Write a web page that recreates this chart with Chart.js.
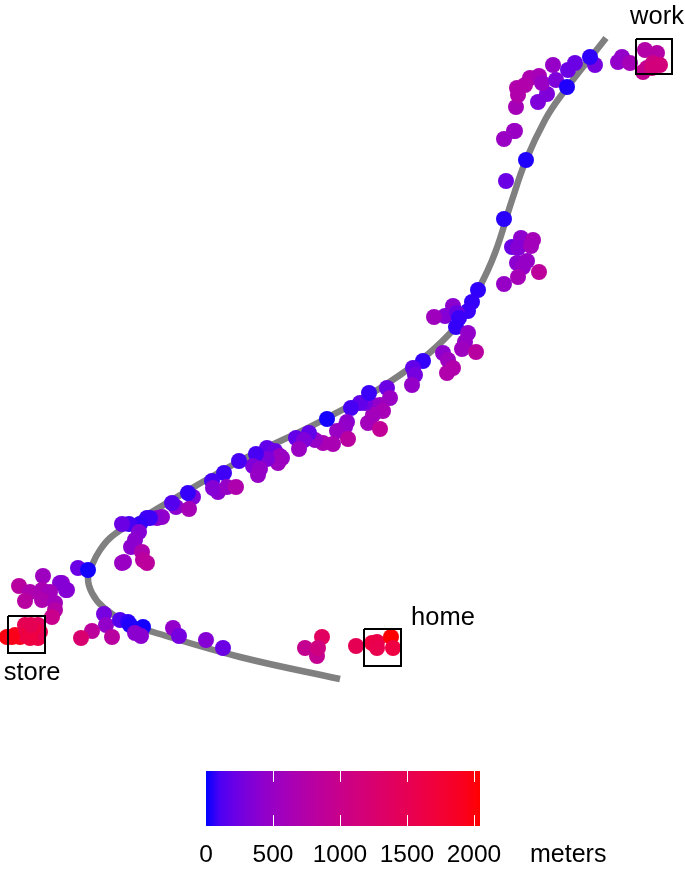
<!DOCTYPE html>
<html>
<head>
<meta charset="utf-8">
<title>commute</title>
<script src="https://cdn.jsdelivr.net/npm/chart.js@4"></script>
<style>
  html, body { margin: 0; padding: 0; background: #fff; }
  #wrap { position: relative; width: 685px; height: 870px; overflow: hidden; }
  canvas { position: absolute; left: 0; }
  #mapChart { top: 0; }
  #barChart { top: 760px; }
</style>
</head>
<body>
<div id="wrap">
  <canvas id="mapChart" width="685" height="760"></canvas>
  <canvas id="barChart" width="685" height="110"></canvas>
</div>
<script>
// road centre line
const roadX = [606, 560, 545, 526, 512, 495, 478, 455, 400, 327, 238, 150, 127, 110, 100, 93, 88, 92, 103, 127, 153, 240, 340];
const roadY = [38, 97, 120, 160, 200, 253, 290, 328, 375, 418, 462, 513, 526, 538, 550, 563, 578, 593, 607, 623, 632, 657, 679];

// recorded positions and distance to the nearest place, in meters
const pointX = [
  622, 618, 630, 643, 645, 657, 647, 653, 652, 660,
  553, 547, 538, 516, 518, 517, 530, 539, 542, 525, 514, 504,
  575, 568, 556, 595, 590, 567,
  515, 506, 526, 504,
  512, 521, 533, 518, 531, 517, 527, 523, 539, 518, 504,
  478, 472, 468, 453, 445, 434, 457, 459, 456,
  468, 465, 462, 476, 443, 448, 453, 447,
  423, 413, 415, 412,
  387, 390, 380, 373, 383, 373, 368, 380, 365, 360, 351, 369,
  347, 345, 337, 348, 333, 323, 315, 309, 296, 304, 299, 282, 327,
  267, 275, 280, 278, 267, 256, 253, 260, 258,
  239, 224, 212, 218, 213, 227, 236,
  193, 188, 176, 172, 189, 162, 157, 150,
  147, 140, 129, 122, 139, 135, 131, 142, 143, 147, 124, 122,
  78, 88,
  67, 62, 43, 19, 30, 60, 66, 42, 50, 25, 42, 55, 55, 52,
  7, 15, 25, 38, 20, 25, 30, 38, 40, 33, 12, 30, 31,
  104, 106, 92, 81, 112, 120, 128, 130, 143, 135, 141,
  173, 179, 206, 223,
  322, 305, 317, 318,
  356, 372, 377, 377, 391, 393
];
const pointY = [
  57, 62, 63, 72, 50, 53, 68, 63, 68, 65,
  65, 94, 102, 107, 95, 88, 78, 76, 83, 85, 131, 139,
  63, 70, 80, 65, 57, 87,
  131, 181, 160, 219,
  247, 238, 240, 248, 246, 263, 261, 267, 272, 277, 284,
  290, 302, 311, 306, 316, 317, 313, 318, 327,
  333, 342, 349, 352, 353, 360, 368, 373,
  361, 368, 375, 385,
  388, 398, 405, 405, 411, 415, 423, 429, 403, 403, 408, 393,
  422, 427, 431, 439, 444, 443, 440, 433, 438, 440, 449, 458, 419,
  448, 451, 456, 463, 459, 454, 466, 469, 475,
  461, 473, 481, 492, 488, 487, 487,
  497, 493, 507, 503, 509, 517, 518, 518,
  518, 524, 524, 524, 532, 540, 547, 552, 560, 563, 562, 563,
  568, 570,
  590, 583, 576, 586, 592, 583, 590, 590, 592, 601, 600, 603, 610, 617,
  637, 635, 625, 625, 637, 635, 632, 638, 632, 628, 637, 638, 625,
  614, 625, 631, 638, 637, 620, 622, 625, 627, 633, 636,
  628, 636, 640, 648,
  637, 648, 656, 648,
  646, 643, 642, 648, 637, 648
];
const pointMeters = [
  450, 450, 600, 950, 750, 750, 950, 1050, 1150, 1150,
  480, 320, 320, 600, 720, 720, 680, 620, 500, 720, 500, 500,
  220, 220, 320, 280, 40, 20,
  500, 220, 20, 30,
  220, 420, 600, 350, 580, 400, 480, 480, 850, 600, 480,
  40, 50, 60, 400, 350, 550, 220, 60, 50,
  450, 480, 540, 800, 420, 540, 720, 720,
  50, 180, 270, 460,
  220, 500, 540, 450, 620, 580, 580, 900, 270, 180, 90, 60,
  400, 450, 500, 800, 640, 640, 480, 180, 180, 320, 500, 500, 10,
  180, 220, 500, 540, 320, 90, 320, 450, 480,
  90, 70, 90, 400, 350, 480, 700,
  320, 50, 400, 130, 600, 450, 400, 70,
  70, 50, 90, 220, 350, 400, 400, 700, 800, 850, 500, 500,
  220, 10,
  400, 450, 540, 800, 680, 350, 350, 640, 580, 800, 680, 580, 750, 1000,
  2000, 1900, 1500, 1400, 1900, 1600, 1700, 1600, 1500, 1650, 1950, 1650, 1500,
  270, 450, 850, 1250, 800, 130, 40, 20, 10, 400, 400,
  450, 270, 350, 220,
  1400, 950, 950, 1100,
  1500, 1700, 1600, 1550, 2050, 1650
];

// the three named places: box corners and label position
const placeNames = ['work', 'store', 'home'];
const boxLeft = [636, 8, 364];
const boxRight = [672, 45, 401];
const boxTop = [39, 616, 629];
const boxBottom = [74, 653, 666];
const labelX = [657, 32, 443];
const labelY = [24, 680, 625];

// colour bar
const barMax = 2045;
const barTicks = [0, 500, 1000, 1500, 2000];
const barUnit = 'meters';

const FONT = '"Liberation Sans", Arial, sans-serif';
const LAB_BLUE = [32.3, 79.19, -107.86];
const LAB_RED = [53.24, 80.09, 67.2];

// blue to red through Lab, the way the original scale does it
function meterColor(m) {
  const t = Math.min(m / barMax, 1);
  const L = LAB_BLUE[0] + (LAB_RED[0] - LAB_BLUE[0]) * t;
  const a = LAB_BLUE[1] + (LAB_RED[1] - LAB_BLUE[1]) * t;
  const b = LAB_BLUE[2] + (LAB_RED[2] - LAB_BLUE[2]) * t;
  const fy = (L + 16) / 116;
  const fx = a / 500 + fy;
  const fz = fy - b / 200;
  const inv = v => (v * v * v > 0.008856 ? v * v * v : (v - 16 / 116) / 7.787);
  const X = 0.95047 * inv(fx);
  const Y = inv(fy);
  const Z = 1.08883 * inv(fz);
  const rgb = [
    3.2406 * X - 1.5372 * Y - 0.4986 * Z,
    -0.9689 * X + 1.8758 * Y + 0.0415 * Z,
    0.0557 * X - 0.204 * Y + 1.057 * Z
  ].map(c => {
    const v = c <= 0.0031308 ? 12.92 * c : 1.055 * Math.pow(c, 1 / 2.4) - 0.055;
    return Math.round(Math.max(0, Math.min(1, v)) * 255);
  });
  return `rgb(${rgb[0]},${rgb[1]},${rgb[2]})`;
}

const placeLabels = {
  id: 'placeLabels',
  afterDatasetsDraw(chart) {
    const { ctx, scales } = chart;
    ctx.save();
    ctx.font = `25.5px ${FONT}`;
    ctx.fillStyle = '#000';
    ctx.textAlign = 'center';
    ctx.textBaseline = 'alphabetic';
    placeNames.forEach((name, i) => {
      ctx.fillText(name, scales.x.getPixelForValue(labelX[i]), scales.y.getPixelForValue(labelY[i]));
    });
    ctx.restore();
  }
};

const boxDatasets = placeNames.map((name, i) => ({
  label: name,
  data: [
    { x: boxLeft[i], y: boxTop[i] },
    { x: boxRight[i], y: boxTop[i] },
    { x: boxRight[i], y: boxBottom[i] },
    { x: boxLeft[i], y: boxBottom[i] },
    { x: boxLeft[i], y: boxTop[i] }
  ],
  showLine: true,
  borderColor: '#000',
  borderWidth: 2,
  borderJoinStyle: 'miter',
  pointRadius: 0,
  order: 0
}));

new Chart(document.getElementById('mapChart'), {
  type: 'scatter',
  data: {
    datasets: [
      {
        label: 'road',
        data: roadX.map((x, i) => ({ x, y: roadY[i] })),
        showLine: true,
        tension: 0.4,
        borderColor: '#808080',
        borderWidth: 6.5,
        borderCapStyle: 'butt',
        pointRadius: 0,
        order: 2
      },
      {
        label: 'positions',
        data: pointX.map((x, i) => ({ x, y: pointY[i] })),
        pointRadius: 8,
        pointBorderWidth: 0,
        pointBackgroundColor: pointMeters.map(meterColor),
        order: 1
      },
      ...boxDatasets
    ]
  },
  options: {
    responsive: false,
    animation: false,
    layout: { padding: 0, autoPadding: false },
    plugins: { legend: { display: false }, tooltip: { enabled: false } },
    scales: {
      x: { type: 'linear', min: 0, max: 685, display: false },
      y: { type: 'linear', min: 0, max: 760, reverse: true, display: false }
    }
  },
  plugins: [placeLabels]
});

const barDecor = {
  id: 'barDecor',
  afterDatasetsDraw(chart) {
    const { ctx, scales, chartArea } = chart;
    ctx.save();
    ctx.strokeStyle = '#fff';
    ctx.lineWidth = 1;
    const tickLen = chartArea.height / 5;
    barTicks.slice(1).forEach(t => {
      const px = Math.round(scales.x.getPixelForValue(t)) + 0.5;
      ctx.beginPath();
      ctx.moveTo(px, chartArea.top);
      ctx.lineTo(px, chartArea.top + tickLen);
      ctx.moveTo(px, chartArea.bottom - tickLen);
      ctx.lineTo(px, chartArea.bottom);
      ctx.stroke();
    });
    ctx.font = `25px ${FONT}`;
    ctx.fillStyle = '#000';
    ctx.textAlign = 'left';
    ctx.textBaseline = 'alphabetic';
    ctx.fillText(barUnit, 530, 102);
    ctx.restore();
  }
};

new Chart(document.getElementById('barChart'), {
  type: 'bar',
  data: {
    labels: [barUnit],
    datasets: [{
      data: [[0, barMax]],
      barPercentage: 1,
      categoryPercentage: 1,
      backgroundColor(context) {
        const { chart } = context;
        const area = chart.chartArea;
        if (!area) return meterColor(barMax / 2);
        const g = chart.ctx.createLinearGradient(area.left, 0, area.right, 0);
        for (let i = 0; i <= 20; i++) g.addColorStop(i / 20, meterColor(barMax * i / 20));
        return g;
      }
    }]
  },
  options: {
    indexAxis: 'y',
    responsive: false,
    animation: false,
    layout: { padding: { left: 206, right: 205, top: 11, bottom: 0 }, autoPadding: false },
    plugins: { legend: { display: false }, tooltip: { enabled: false } },
    scales: {
      x: {
        type: 'linear',
        min: 0,
        max: barMax,
        grid: { display: false },
        border: { display: false },
        afterBuildTicks(axis) { axis.ticks = barTicks.map(value => ({ value })); },
        afterFit(axis) { axis.height = 44; },
        ticks: {
          autoSkip: false,
          maxRotation: 0,
          padding: 7,
          color: '#000',
          font: { family: FONT, size: 24.5 },
          callback: value => String(value)
        }
      },
      y: { display: false }
    }
  },
  plugins: [barDecor]
});
</script>
</body>
</html>
